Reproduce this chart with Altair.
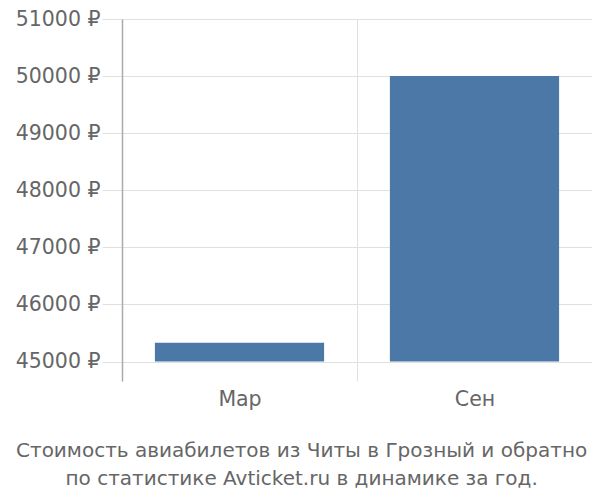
import altair as alt
import pandas as pd

months = ["Мар", "Сен"]
prices = [45330, 50000]
y_ticks = [45000, 46000, 47000, 48000, 49000, 50000, 51000]
title_lines = ["Стоимость авиабилетов из Читы в Грозный и обратно",
               "по статистике Avticket.ru в динамике за год."]

df = pd.DataFrame({"month": months, "price": prices})

FONT = "DejaVu Sans"
TXT = "#666666"
FS = 20.5

bars = alt.Chart(df).mark_bar(color="#4c78a8", width=alt.RelativeBandSize(0.72)).encode(
    x=alt.X("month:N", sort=months, title=None,
            scale=alt.Scale(paddingInner=0, paddingOuter=0),
            axis=alt.Axis(grid=True, tickBand="extent", gridColor="#e0e0e0",
                          domain=False, ticks=False, labelAngle=0,
                          labelFont=FONT, labelFontSize=FS, labelColor=TXT,
                          labelPadding=8)),
    y=alt.Y("price:Q", title=None,
            scale=alt.Scale(domain=[44660, 51000], nice=False, zero=False),
            axis=alt.Axis(values=y_ticks, labelExpr="datum.value + ' ₽'",
                          grid=True, gridColor="#e0e0e0",
                          domain=True, domainColor="#aaaaaa", domainWidth=1.5,
                          ticks=True, tickSize=20, tickColor="#e0e0e0",
                          labelFont=FONT, labelFontSize=FS, labelColor=TXT,
                          labelPadding=2)),
    y2=alt.datum(45000),
)

chart = bars.properties(
    width=470, height=362,
    padding={"left": 114, "top": 11, "right": 0, "bottom": 110},
    autosize=alt.AutoSizeParams(type="none"),
    title=alt.TitleParams(text=title_lines, orient="bottom", anchor="middle",
                          frame="bounds", font=FONT, fontSize=20,
                          fontWeight="normal", color=TXT, lineHeight=28,
                          offset=31, dx=-2),
).configure_view(stroke=None)

chart.save("out.html", embed_options={"renderer": "svg", "actions": False})
